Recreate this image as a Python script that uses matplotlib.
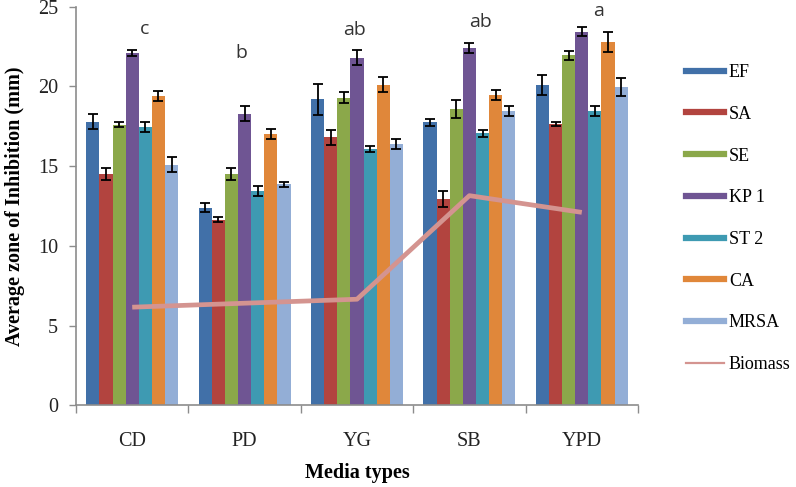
import numpy as np
import matplotlib
matplotlib.use("Agg")
import matplotlib.pyplot as plt
from matplotlib.lines import Line2D

media = ["CD", "PD", "YG", "SB", "YPD"]
strains = ["EF", "SA", "SE", "KP 1", "ST 2", "CA", "MRSA"]

# zone of inhibition (mm), one list per strain, values per media type
ef = [17.8, 12.4, 19.2, 17.75, 20.1]
sa = [14.5, 11.65, 16.8, 12.95, 17.65]
se = [17.6, 14.5, 19.3, 18.6, 21.95]
kp1 = [22.1, 18.3, 21.8, 22.4, 23.45]
st2 = [17.45, 13.45, 16.1, 17.05, 18.45]
ca = [19.4, 17.0, 20.1, 19.45, 22.8]
mrsa = [15.1, 13.85, 16.4, 18.45, 19.95]

ef_err = [0.47, 0.3, 0.98, 0.21, 0.62]
sa_err = [0.37, 0.16, 0.45, 0.51, 0.15]
se_err = [0.15, 0.37, 0.35, 0.57, 0.29]
kp1_err = [0.16, 0.45, 0.47, 0.3, 0.3]
st2_err = [0.3, 0.31, 0.18, 0.22, 0.3]
ca_err = [0.31, 0.31, 0.47, 0.31, 0.64]
mrsa_err = [0.45, 0.18, 0.33, 0.3, 0.57]

biomass = [6.15, 6.4, 6.65, 13.15, 12.1]

letters = ["c", "b", "ab", "ab", "a"]
letter_x = [0.11, 0.97, 1.98, 3.1, 4.15]
letter_y = [23.6, 22.1, 23.55, 24.05, 24.75]

values = [ef, sa, se, kp1, st2, ca, mrsa]
errors = [ef_err, sa_err, se_err, kp1_err, st2_err, ca_err, mrsa_err]
colors = ["#4170A8", "#B2443F", "#8BA84A", "#6F5593", "#3E9AB2", "#E0873A", "#93AED6"]
line_color = "#D49490"

serif = "Liberation Serif"

fig = plt.figure(figsize=(7.96, 4.87), dpi=100)
ax = fig.add_axes([0.0955, 0.168, 0.706, 0.818])

x = np.arange(len(media))
width = 1 / (7 + 1.57)
for i, (vals, errs) in enumerate(zip(values, errors)):
    pos = x + (i - 3) * width
    ax.bar(pos, vals, width, color=colors[i], edgecolor="none", zorder=2)
    ax.errorbar(pos, vals, yerr=errs, fmt="none", ecolor="black",
                elinewidth=1.3, capsize=3.5, capthick=1.3, zorder=3)

ax.plot(x, biomass, color=line_color, lw=3.4, zorder=4, solid_capstyle="butt")

for lx, ly, t in zip(letter_x, letter_y, letters):
    ax.text(lx, ly, t, ha="center", va="center", fontsize=14,
            family="Open Sans", color="#333333", clip_on=False)

ax.set_xlim(-0.5, 4.5)
ax.set_ylim(0, 25)
ax.set_yticks(range(0, 26, 5))
ax.set_xticks(x)
ax.set_xticklabels(media)
ax.set_xticks(np.arange(-0.5, 5, 1), minor=True)
ax.tick_params(axis="x", which="major", length=0, pad=19)
ax.tick_params(axis="x", which="minor", length=6, color="#8c8c8c", width=1)
ax.tick_params(axis="y", length=5, color="#8c8c8c", width=1, pad=8)
for lab in ax.get_xticklabels() + ax.get_yticklabels():
    lab.set_family(serif)
    lab.set_fontsize(14.5)
    lab.set_color("#222222")

for s in ["top", "right"]:
    ax.spines[s].set_visible(False)
for s in ["left", "bottom"]:
    ax.spines[s].set_color("#8c8c8c")
    ax.spines[s].set_linewidth(1.2)

ax.set_ylabel("Average zone of Inhibition (mm)", family=serif, fontsize=14.5,
              fontweight="bold", labelpad=9)
ax.set_xlabel("Media types", family=serif, fontsize=14.5, fontweight="bold",
              labelpad=9)

handles = [Line2D([], [], color=c, lw=4.5) for c in colors]
handles.append(Line2D([], [], color=line_color, lw=1.6))
fig.legend(handles, strains + ["Biomass"], loc="upper left",
           bbox_to_anchor=(0.851, 0.887), frameon=False,
           prop={"family": serif, "size": 13}, handlelength=2.1,
           handletextpad=0.25, labelspacing=1.37, borderpad=0)

fig.savefig("out.png", dpi=100)
